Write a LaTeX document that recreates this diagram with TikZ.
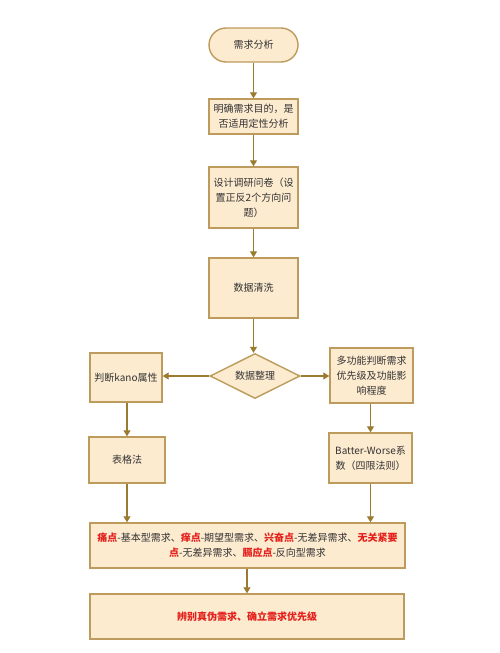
\documentclass[tikz,border=0pt]{standalone}
\usepackage{fontspec}
\setmainfont{Noto Sans CJK SC}
\usetikzlibrary{arrows.meta,shapes.geometric}
\definecolor{boxfill}{HTML}{FDEBD0}
\definecolor{boxline}{HTML}{BC9B5C}
\definecolor{arrowc}{HTML}{9A7B2F}
\definecolor{txt}{HTML}{333333}
\definecolor{redt}{HTML}{E3201B}
\tikzset{
  box/.style={draw=boxline, fill=boxfill, line width=1.4pt, inner sep=0pt, align=center,
    text=txt, font=\fontsize{10}{15}\selectfont},
  dia/.style={box, diamond, aspect=2},
  conn/.style={draw=arrowc, line width=1.2pt, -{Triangle[width=7pt,length=6pt]}},
}
\newcommand{\rb}[1]{\textbf{\textcolor{redt}{#1}}}
\begin{document}
\begin{tikzpicture}[x=1pt,y=-1pt]
\useasboundingbox[fill=white] (0,0) rectangle (500,653);
\node[box, rounded corners=17pt, minimum width=89pt, minimum height=34pt] (start) at (253.5,45) {需求分析};
\node[box, minimum width=89pt, minimum height=35pt] (b2) at (253.5,116.5) {明确需求目的，是\\否适用定性分析};
\node[box, minimum width=89pt, minimum height=61pt] (b3) at (253.5,197.5) {设计调研问卷（设\\置正反2个方向问\\题）};
\node[box, minimum width=89pt, minimum height=60pt] (b4) at (253.5,288) {数据清洗};
\node[dia, minimum width=90pt, minimum height=45pt] (d) at (255,376) {数据整理};
\node[box, minimum width=72pt, minimum height=49pt] (l1) at (126,377.5) {判断kano属性};
\node[box, minimum width=83pt, minimum height=55pt] (r1) at (371.5,375.5) {多功能判断需求\\优先级及功能影\\响程度};
\node[box, minimum width=76pt, minimum height=46pt] (l2) at (127,460) {表格法};
\node[box, minimum width=83pt, minimum height=50pt] (r2) at (370.5,458) {Batter-Worse系\\数（四限法则）};
\node[box, minimum width=315pt, minimum height=45pt] (red) at (247.5,545.5) {\rb{痛点}-基本型需求、\rb{痒点}-期望型需求、\rb{兴奋点}-无差异需求、\rb{无关紧要}\\\rb{点}-无差异需求、\rb{膈应点}-反向型需求};
\node[box, minimum width=314pt, minimum height=45pt] (fin) at (247,616.5) {\rb{辨别真伪需求、确立需求优先级}};
\draw[conn] (start) -- (b2);
\draw[conn] (b2) -- (b3);
\draw[conn] (b3) -- (b4);
\draw[conn] (b4.south) -- (b4.south |- d.north);
\draw[conn] (d.west) -- (l1.east |- d.west);
\draw[conn] (d.east) -- (r1.west |- d.east);
\draw[conn] (l1.south -| l2.north) -- (l2.north);
\draw[conn] (r1.south -| r2.north) -- (r2.north);
\draw[conn] (l2.south) -- (l2.south |- red.north);
\draw[conn] (r2.south) -- (r2.south |- red.north);
\draw[conn] (red.south -| fin.north) -- (fin.north);
\end{tikzpicture}
\end{document}
